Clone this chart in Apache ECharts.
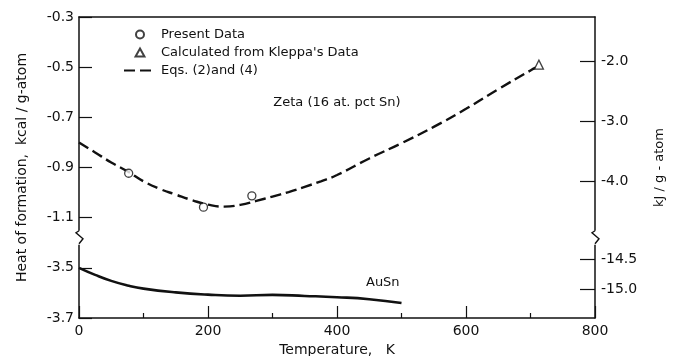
<!DOCTYPE html>
<html>
<head>
<meta charset="utf-8">
<script src="https://cdn.jsdelivr.net/npm/echarts@6/dist/echarts.min.js"></script>
<style>
  html, body { margin: 0; padding: 0; background: #fff; }
  #chart { width: 674px; height: 356px; }
</style>
</head>
<body>
<div id="chart"></div>
<script>
// Zeta phase, Eqs. (2) and (4)  (T in K, heat of formation in kcal/g-atom)
const eqTemps = [0, 25, 50, 75, 100, 125, 150, 175, 200, 225, 250, 275, 300, 325, 350, 375, 400, 450, 500, 550, 600, 650, 700, 708];
const eqKcal = [-0.80, -0.84, -0.88, -0.915, -0.955, -0.985, -1.008, -1.030, -1.048, -1.056, -1.049, -1.033, -1.016, -0.998, -0.977, -0.955, -0.930, -0.864, -0.803, -0.738, -0.666, -0.588, -0.513, -0.502];

const presentTemps = [77, 193, 268];
const presentKcal = [-0.923, -1.058, -1.013];

const kleppaTemps = [713];
const kleppaKcal = [-0.49];

// AuSn curve, lower panel
const auSnTemps = [0, 25, 50, 75, 100, 150, 200, 250, 300, 350, 400, 450, 500];
const auSnKcal = [-3.50, -3.528, -3.552, -3.570, -3.583, -3.598, -3.607, -3.611, -3.608, -3.612, -3.617, -3.625, -3.640];

// tick labels
const kcalTicksUpper = [-0.3, -0.5, -0.7, -0.9, -1.1];
const kcalTicksLower = [-3.5, -3.7];
const kjTicksUpper = [-2.0, -3.0, -4.0];
const kjTicksLower = [-14.5, -15.0];

const BREAK_SHIFT = 2.2;   // lower panel is pulled up by this many kcal
const KJ_PER_KCAL = 4.184;

const plotY = v => (v < -2 ? v + BREAK_SHIFT : v);
const realY = v => (v < -1.2 ? v - BREAK_SHIFT : v);
const pairs = (xs, ys) => xs.map((x, i) => [x, plotY(ys[i])]);

const leftTicks = kcalTicksUpper.concat(kcalTicksLower).map(plotY);
const rightTicks = kjTicksUpper.map(v => v / KJ_PER_KCAL)
  .concat(kjTicksLower.map(v => plotY(v / KJ_PER_KCAL)));

const ink = "#111";
const font = "DejaVu Sans";

const chart = echarts.init(document.getElementById("chart"), null, { renderer: "canvas" });

chart.setOption({
  animation: false,
  textStyle: { fontFamily: font, color: ink },
  grid: { left: 79, right: 79, top: 17, bottom: 38, outerBoundsMode: "none" },
  legend: {
    data: [
      { name: "Present Data", icon: "circle" },
      { name: "Calculated from Kleppa's Data", icon: "path://M5,0 L10,9 L0,9 Z" },
      { name: "Eqs. (2)and (4)", itemStyle: { opacity: 0 } }
    ],
    orient: "vertical",
    left: 123,
    top: 28,
    itemWidth: 32,
    itemHeight: 8,
    itemGap: 5,
    padding: 0,
    symbolKeepAspect: true,
    textStyle: { fontSize: 13, color: ink, fontFamily: font }
  },
  xAxis: [
    {
      type: "value",
      min: 0,
      max: 800,
      interval: 200,
      name: "Temperature,   K",
      nameLocation: "middle",
      nameGap: 22,
      nameTextStyle: { fontSize: 14, color: ink },
      axisLine: { lineStyle: { color: ink, width: 1.5 } },
      axisTick: { inside: true, length: 12, lineStyle: { color: ink, width: 1.2 } },
      minorTick: { show: true, splitNumber: 2, length: 5, lineStyle: { color: ink, width: 1.2 } },
      axisLabel: { fontSize: 14, color: ink, margin: 6 },
      splitLine: { show: false }
    },
    {
      type: "value",
      position: "top",
      min: 0,
      max: 800,
      axisLine: { onZero: false, lineStyle: { color: ink, width: 1.5 } },
      axisTick: { show: false },
      axisLabel: { show: false },
      splitLine: { show: false }
    }
  ],
  yAxis: [
    {
      type: "value",
      min: -1.5,
      max: -0.3,
      name: "Heat of formation,  kcal / g-atom",
      nameLocation: "middle",
      nameGap: 50,
      nameRotate: 90,
      nameTextStyle: { fontSize: 14, color: ink },
      axisLine: { show: true, onZero: false, lineStyle: { color: ink, width: 1.5 } },
      axisTick: { inside: true, length: 13, customValues: leftTicks, lineStyle: { color: ink, width: 1.2 } },
      axisLabel: {
        fontSize: 14,
        color: ink,
        margin: 5,
        customValues: leftTicks,
        formatter: v => realY(v).toFixed(1)
      },
      splitLine: { show: false }
    },
    {
      type: "value",
      position: "right",
      min: -1.5,
      max: -0.3,
      name: "kJ / g - atom",
      nameLocation: "middle",
      nameGap: 58,
      nameRotate: 90,
      nameTextStyle: { fontSize: 13, color: ink },
      axisLine: { show: true, onZero: false, lineStyle: { color: ink, width: 1.5 } },
      axisTick: { inside: true, length: 15, customValues: rightTicks, lineStyle: { color: ink, width: 1.2 } },
      axisLabel: {
        fontSize: 14,
        color: ink,
        margin: 6,
        customValues: rightTicks,
        formatter: v => (realY(v) * KJ_PER_KCAL).toFixed(1)
      },
      splitLine: { show: false }
    }
  ],
  series: [
    {
      name: "Eqs. (2)and (4)",
      type: "line",
      smooth: true,
      symbol: "none",
      data: pairs(eqTemps, eqKcal),
      lineStyle: { color: ink, width: 2.4, type: [11, 5] },
      itemStyle: { color: ink },
      z: 2
    },
    {
      name: "AuSn",
      type: "line",
      smooth: true,
      symbol: "none",
      data: pairs(auSnTemps, auSnKcal),
      lineStyle: { color: ink, width: 2.6 },
      z: 2
    },
    {
      name: "Present Data",
      type: "scatter",
      symbol: "circle",
      symbolSize: 8,
      data: pairs(presentTemps, presentKcal),
      itemStyle: { color: "#fff", borderColor: ink, borderWidth: 1.3 },
      z: 3
    },
    {
      name: "Calculated from Kleppa's Data",
      type: "scatter",
      symbol: "triangle",
      symbolSize: 9,
      data: pairs(kleppaTemps, kleppaKcal),
      itemStyle: { color: "#fff", borderColor: ink, borderWidth: 1.3 },
      z: 3
    }
  ]
});

// axis break marks and curve labels, placed from data coordinates
const BREAK_AT = -1.18;
const yb = chart.convertToPixel({ yAxisIndex: 0 }, BREAK_AT);
const xl = chart.convertToPixel({ xAxisIndex: 0 }, 0);
const xr = chart.convertToPixel({ xAxisIndex: 0 }, 800);
const zigzag = x => ({
  type: "group",
  children: [
    { type: "rect", shape: { x: x - 2, y: yb - 7, width: 4, height: 14 }, style: { fill: "#fff" }, z: 100 },
    {
      type: "polyline",
      shape: { points: [[x, yb - 7], [x - 3, yb - 5], [x + 4, yb + 1], [x, yb + 6]] },
      style: { stroke: ink, lineWidth: 1.4, fill: null },
      z: 101
    }
  ]
});
const zetaPos = chart.convertToPixel({ xAxisIndex: 0, yAxisIndex: 0 }, [400, -0.64]);
const auSnPos = chart.convertToPixel({ xAxisIndex: 0, yAxisIndex: 0 }, [471, plotY(-3.56)]);

chart.setOption({
  graphic: [
    zigzag(xl),
    zigzag(xr),
    {
      type: "text",
      x: zetaPos[0],
      y: zetaPos[1],
      style: { text: "Zeta (16 at. pct Sn)", font: "13px " + font, fill: ink, align: "center", verticalAlign: "middle" }
    },
    {
      type: "text",
      x: auSnPos[0],
      y: auSnPos[1],
      style: { text: "AuSn", font: "13px " + font, fill: ink, align: "center", verticalAlign: "middle" }
    }
  ]
});
</script>
</body>
</html>
